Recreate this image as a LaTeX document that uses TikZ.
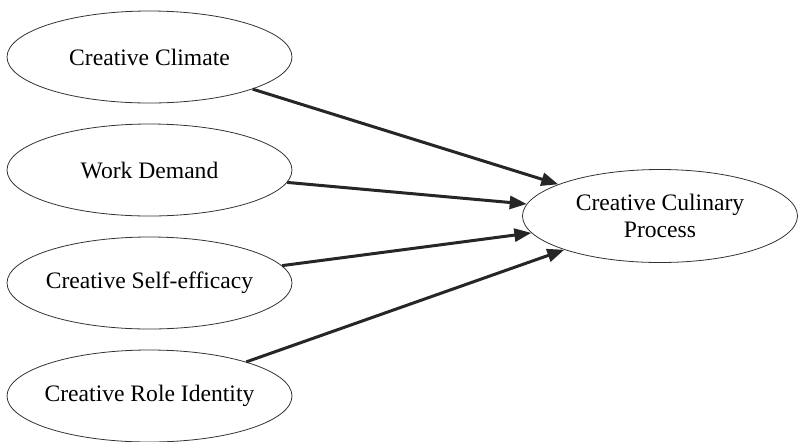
\documentclass[tikz,border=0pt]{standalone}
\usepackage{fontspec}
\setmainfont{Liberation Serif}
\usepackage{tikz}
\usetikzlibrary{shapes.geometric,arrows.meta}

\begin{document}
\begin{tikzpicture}[x=0.5pt,y=-0.5pt]
        \useasboundingbox (0,0) rectangle (799,441);
        \begin{scope}[every node/.style={ellipse,draw=black!80,line width=0.4pt,inner xsep=-4pt,inner ysep=0pt,font=\fontsize{11.8pt}{13.6pt}\selectfont}]
            \node[minimum width=142.5pt,minimum height=46pt] (climate) at (149.5,57) {Creative Climate};
            \node[minimum width=142.5pt,minimum height=46pt] (demand) at (149.5,170) {Work Demand};
            \node[minimum width=142.5pt,minimum height=46pt] (efficacy) at (149.5,283) {Creative Self-efficacy};
            \node[minimum width=142.5pt,minimum height=46pt] (identity) at (149.5,396) {Creative Role Identity};

            \node[minimum width=137.5pt,minimum height=46.5pt,align=center] (culinary) at (660,216) {Creative Culinary\\Process};
        \end{scope}
        \begin{scope}[every edge/.style={draw,line width=1.5pt,black!85,-{Triangle[length=8.5pt,width=6.5pt]}}]
            \path (climate) edge (culinary);
            \path (demand) edge (culinary);
            \path (efficacy) edge (culinary);
            \path (identity) edge (culinary);
        \end{scope}
    \end{tikzpicture}
\end{document}
